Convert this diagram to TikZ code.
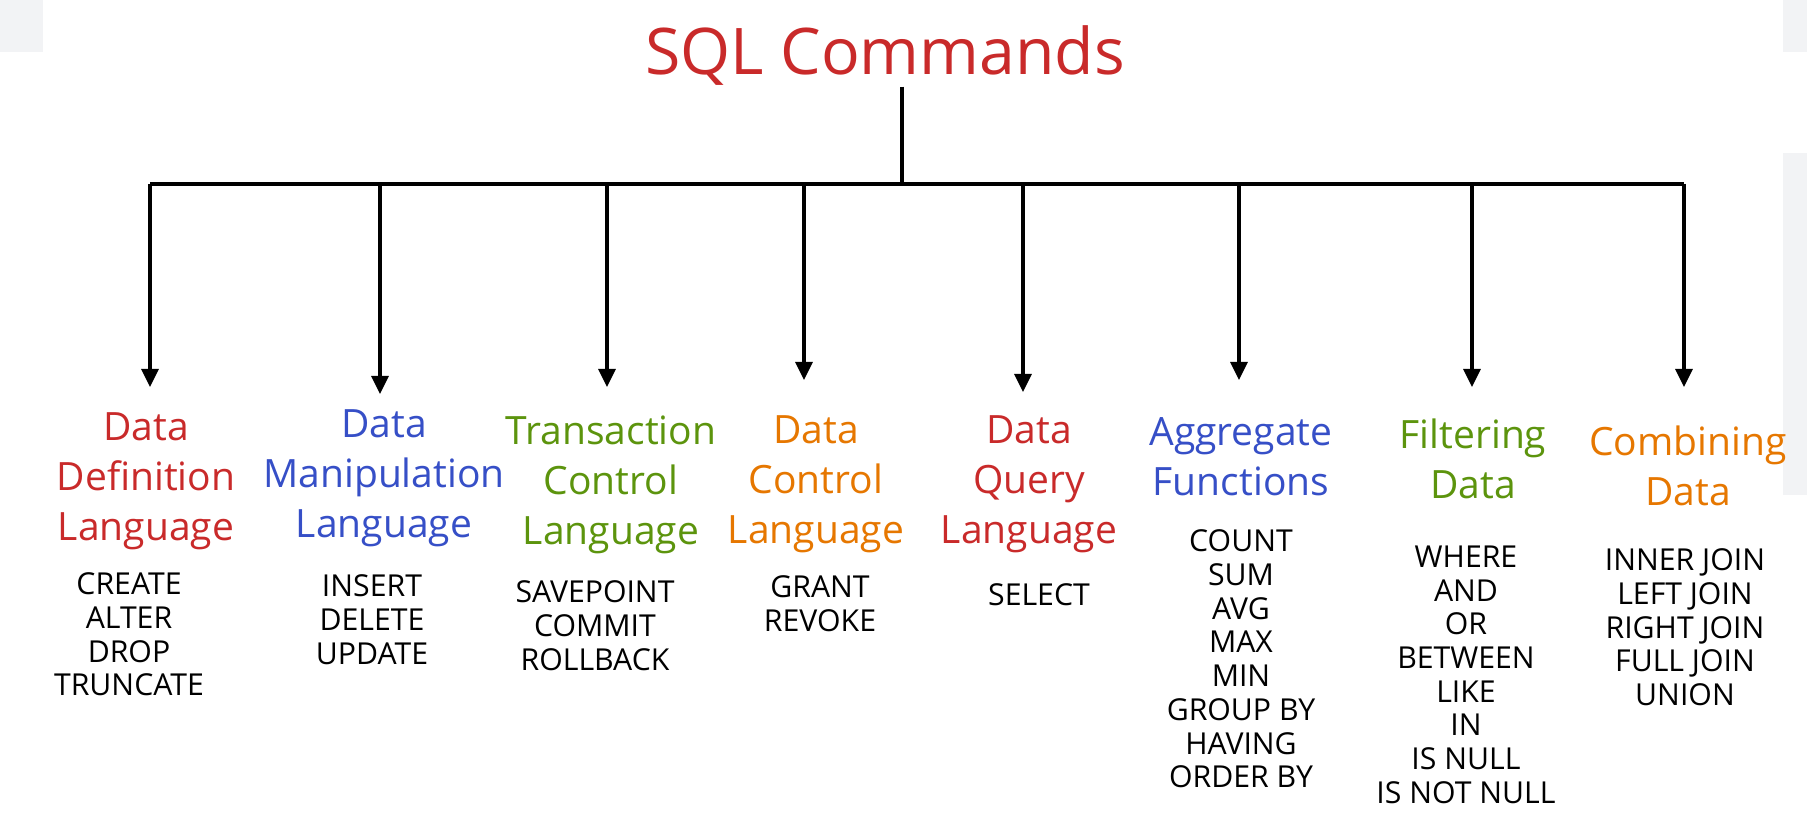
\documentclass[tikz,border=0pt]{standalone}
\usepackage{fontspec}
\setmainfont{Open Sans}
\usepackage{tikz}
\usetikzlibrary{arrows.meta}

\definecolor{ddlred}{RGB}{201,42,42}
\definecolor{dmlblue}{RGB}{54,79,199}
\definecolor{tclgreen}{RGB}{92,148,13}
\definecolor{dclorange}{RGB}{230,119,0}
\definecolor{pagegray}{RGB}{242,243,245}

\tikzset{
  heading/.style={align=center, inner sep=0pt, anchor=north, font=\fontsize{11.1}{14.2}\selectfont},
  cmdlist/.style={align=center, inner sep=0pt, anchor=north, text=black, font=\fontsize{8.6}{9.6}\selectfont},
  branch/.style={line width=0.9pt, -{Triangle[length=1.8mm,width=1.7mm]}},
}

\begin{document}
\begin{tikzpicture}[x=0.1mm,y=-0.1mm]
	\useasboundingbox (0,0) rectangle (1807,831);
	\fill[white] (0,0) rectangle (1807,831);
	% page behind the sketch
	\fill[pagegray] (0,0) rectangle (43,52);
	\fill[pagegray] (1783,0) rectangle (1807,52);
	\fill[pagegray] (1783,153) rectangle (1807,495);

	\node[anchor=base, inner sep=0pt, text=ddlred, font=\fontsize{18.3}{22}\selectfont] (sql) at (885,75) {SQL Commands};

	\coordinate (hub) at (902,184);
	\coordinate (b1) at (150,184);
	\coordinate (b2) at (380,184);
	\coordinate (b3) at (607,184);
	\coordinate (b4) at (804,184);
	\coordinate (b5) at (1023,184);
	\coordinate (b6) at (1239,184);
	\coordinate (b7) at (1472,184);
	\coordinate (b8) at (1684,184);
	\draw[line width=0.9pt] (hub |- sql.south) -- (hub);
	\draw[line width=0.9pt] (b1) -- (b8);

	% categories
	\node[heading, text=ddlred] (ddl) at (146,412) {Data\\Definition\\Language};
	\node[heading, text=dmlblue] (dml) at (384,409) {Data\\Manipulation\\Language};
	\node[heading, text=tclgreen] (tcl) at (611,415) {Transaction\\Control\\Language};
	\node[heading, text=dclorange] (dcl) at (816,415) {Data\\Control\\Language};
	\node[heading, text=ddlred] (dql) at (1029,415) {Data\\Query\\Language};
	\node[heading, text=dmlblue] (agg) at (1241,417) {Aggregate\\Functions};
	\node[heading, text=tclgreen] (filt) at (1473,418) {Filtering\\Data};
	\node[heading, text=dclorange] (comb) at (1688,425) {Combining\\Data};

	\draw[branch, shorten >=2.5mm] (b1) -- (b1 |- ddl.north);
	\draw[branch, shorten >=1.5mm] (b2) -- (b2 |- dml.north);
	\draw[branch, shorten >=2.8mm] (b3) -- (b3 |- tcl.north);
	\draw[branch, shorten >=3.5mm] (b4) -- (b4 |- dcl.north);
	\draw[branch, shorten >=2.3mm] (b5) -- (b5 |- dql.north);
	\draw[branch, shorten >=3.7mm] (b6) -- (b6 |- agg.north);
	\draw[branch, shorten >=3.1mm] (b7) -- (b7 |- filt.north);
	\draw[branch, shorten >=3.8mm] (b8) -- (b8 |- comb.north);

	% commands
	\node[cmdlist] (ddlcmds) at (129,572) {CREATE\\ALTER\\DROP\\TRUNCATE};
	\node[cmdlist] (dmlcmds) at (372,574) {INSERT\\DELETE\\UPDATE};
	\node[cmdlist] (tclcmds) at (595,580) {SAVEPOINT\\COMMIT\\ROLLBACK};
	\node[cmdlist] (dclcmds) at (820,575) {GRANT\\REVOKE};
	\node[cmdlist] (dqlcmds) at (1039,583) {SELECT};
	\node[cmdlist] (aggcmds) at (1241,529) {COUNT\\SUM\\AVG\\MAX\\MIN\\GROUP BY\\HAVING\\ORDER BY};
	\node[cmdlist] (filtcmds) at (1466,545) {WHERE\\AND\\OR\\BETWEEN\\LIKE\\IN\\IS NULL\\IS NOT NULL};
	\node[cmdlist] (combcmds) at (1685,548) {INNER JOIN\\LEFT JOIN\\RIGHT JOIN\\FULL JOIN\\UNION};
\end{tikzpicture}
\end{document}
